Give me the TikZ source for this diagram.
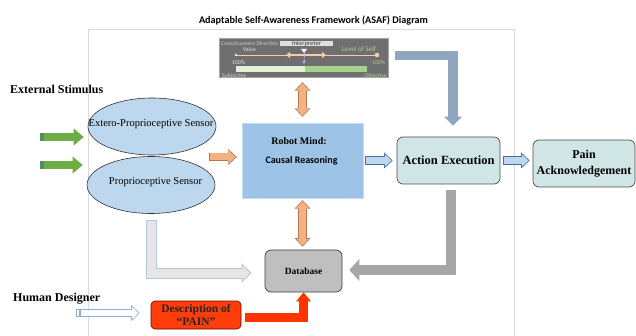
\documentclass[tikz,border=0pt]{standalone}
\usepackage{fontspec}
\setmainfont{Liberation Serif}
\newfontfamily\carlito{Carlito}
\usetikzlibrary{arrows.meta,calc,shapes.geometric}

\definecolor{frameline}{HTML}{D9D9D9}
\definecolor{sensfill}{HTML}{BDD7EE}
\definecolor{mindfill}{HTML}{9DC3E6}
\definecolor{actfill}{HTML}{D0E5E6}
\definecolor{stimgreen}{HTML}{6EAD45}
\definecolor{stimdark}{HTML}{4F8F6A}
\definecolor{orgfill}{HTML}{F4B183}
\definecolor{orgline}{HTML}{B7794D}
\definecolor{bluline}{HTML}{41719C}
\definecolor{steel}{HTML}{8FA6BF}
\definecolor{descred}{HTML}{FF3D0A}
\definecolor{painred}{HTML}{FF3300}
\definecolor{dbgray}{HTML}{BFBFBF}
\definecolor{grayarrow}{HTML}{A6A6A6}
\definecolor{palefill}{HTML}{E7E6E6}
\definecolor{paleline}{HTML}{B4C7DC}
\definecolor{hdline}{HTML}{8FAADC}
\definecolor{panelgray}{HTML}{6F6F6F}
\definecolor{lvlgreen}{HTML}{A9D18E}
\definecolor{lightgreen}{HTML}{E2F0D9}
\definecolor{peach}{HTML}{F8CBAD}
\definecolor{lavender}{HTML}{B4B4E6}

\def\blockarr[#1][#2]#3;{\draw[#1] #3; \draw[#2] #3;}

\tikzset{
  lbl/.style={font=\bfseries\fontsize{12}{14}\selectfont, anchor=west, inner sep=0pt},
  sensor/.style={ellipse, draw=black!80, line width=0.6pt, fill=sensfill, minimum width=128pt, minimum height=57pt, inner sep=0pt},
  senstext/.style={font=\fontsize{10.5}{12}\selectfont, inner sep=0pt},
  mindbox/.style={rectangle, fill=mindfill, draw=mindfill!60!white, minimum width=121pt, minimum height=75pt},
  actbox/.style={rectangle, rounded corners=6pt, draw=black!70, line width=0.7pt, fill=actfill, minimum width=103pt, minimum height=47pt, inner sep=1pt, align=center, font=\bfseries\fontsize{12.5}{15.5}\selectfont},
  dbbox/.style={rectangle, rounded corners=6pt, draw=black!75, line width=0.7pt, fill=dbgray, minimum width=77pt, minimum height=42pt, font=\bfseries\fontsize{9.5}{11}\selectfont},
  descbox/.style={rectangle, rounded corners=4pt, draw=red!45!black, line width=0.6pt, fill=descred, minimum width=90pt, minimum height=28pt, inner sep=0pt, align=center, text=black!85, font=\bfseries\fontsize{11.5}{13}\selectfont},
  panelfont/.style={font=\carlito\fontsize{5.8}{6}\selectfont, inner sep=0pt},
  stimarr/.style={line width=8pt, stimgreen, -{Triangle[length=10pt,width=17pt,line width=0pt]}},
  blkout/.style={line width=8.5pt, >={Triangle[length=8.5pt,width=16pt,line width=0pt]}},
  blkin/.style={line width=7pt, shorten <=0.75pt, shorten >=1.1pt, >={Triangle[length=6.7pt,width=12.5pt,line width=0pt]}},
  paleout/.style={line width=11pt, paleline, -{Triangle[length=10pt,width=19.5pt,line width=0pt]}},
  palein/.style={line width=9pt, palefill, shorten <=1pt, shorten >=1.4pt, -{Triangle[length=7.6pt,width=14.8pt,line width=0pt]}},
  steelarr/.style={line width=9.5pt, steel, -{Triangle[length=9pt,width=18pt,line width=0pt]}},
  grayarr/.style={line width=10pt, grayarrow, -{Triangle[length=10pt,width=22pt,line width=0pt]}},
  redarr/.style={line width=9pt, painred, -{Triangle[length=9pt,width=15pt,line width=0pt]}}
}

\begin{document}
\begin{tikzpicture}[x=1pt,y=-1pt]
  \useasboundingbox (0,0) rectangle (636,336);
  %%%%% FRAME %%%%%
  \draw[frameline, line width=0.8pt] (88,336) |- (514,29) -- (514,336);
  \node[font=\carlito\bfseries\fontsize{10.2}{12}\selectfont] (title) at (313.5,20.5) {Adaptable Self-Awareness Framework (ASAF) Diagram};

  %%%%% LEVEL OF SELF %%%%%
  \node[rectangle, fill=panelgray, draw=black!35, minimum width=169pt, minimum height=39pt, inner sep=0pt] (level) at (303.5,57.5) {};
  \node[panelfont, text=black!20, anchor=west] (consc) at (221,44) {Consciousness Direction};
  \node[panelfont, fill=black!12, text=black!80, minimum width=53pt, minimum height=5.5pt, font=\carlito\fontsize{6.5}{6.5}\selectfont] (interp) at (306.5,43.5) {Interpreter};
  \node[panelfont, text=black!12] (value) at (249.5,50) {Value};
  \node[panelfont, text=lvlgreen, font=\carlito\fontsize{7}{7}\selectfont] (lvl) at (359,49) {Level of Self};
  \draw[peach, line width=0.8pt] (236,55) -- (377,55);
  \fill[black!10] (236,55) circle (1.3pt);
  \fill[peach] (377,55) circle (2.3pt);
  \draw[peach, line width=1.4pt, {Triangle[length=4pt,width=6pt]}-{Triangle[length=4pt,width=6pt]}] (286,55) -- (326,55);
  \fill[white] (301,49) -- (307,49) -- (304,53) -- cycle;
  \draw[lavender, line width=0.8pt, dash pattern=on 1.5pt off 1pt, -{Triangle[length=3pt,width=3pt]}] (304,53) -- (304,64);
  \node[panelfont, text=black!10] (pctL) at (238.5,63) {100\%};
  \node[panelfont, text=lvlgreen] (pctR) at (378.5,63) {100\%};
  \fill[lightgreen] (236,66) rectangle (305,72.5);
  \fill[lvlgreen] (305,66) rectangle (367,72.5);
  \node[panelfont, text=black!20, anchor=west] (subj) at (222,75.5) {Subjective};
  \node[panelfont, text=lvlgreen, anchor=east] (obj) at (387,75.5) {Objective};

  %%%%% LABELS %%%%%
  \node[lbl] (extlbl) at (10,89) {External Stimulus};
  \node[lbl] (hdlbl) at (13,299) {Human Designer};

  %%%%% BOXES %%%%%
  \node[sensor] (sensA) at (152,126.5) {};
  \node[senstext] (sensAtxt) at (151,124) {Extero-Proprioceptive Sensor};
  \node[sensor] (sensB) at (151,185) {};
  \node[senstext] (sensBtxt) at (155.5,182) {Proprioceptive Sensor};

  \node[mindbox] (mind) at (302.5,160.5) {};
  \node[font=\bfseries\fontsize{10}{12}\selectfont] (mindA) at (299,141) {Robot Mind:};
  \node[font=\carlito\bfseries\fontsize{10}{12}\selectfont] (mindB) at (301.5,160.5) {Causal Reasoning};

  \node[actbox] (action) at (448.5,160.5) {Action Execution};
  \node[actbox, font=\bfseries\fontsize{12}{16}\selectfont, minimum width=102pt] (pain) at (584,163.5) {Pain\\Acknowledgement};
  \node[dbbox] (db) at (303.5,271) {Database};
  \node[descbox] (desc) at (196,315) {Description of\\“PAIN”};

  %%%%% ARROWS %%%%%
  \coordinate (stimA) at (40,137);
  \coordinate (stimB) at (40,165);
  \draw[stimarr, shorten >=4pt] (stimA) -- (stimA -| sensA.west);
  \draw[stimarr, shorten >=4pt] (stimB) -- (stimB -| sensB.west);
  \draw[line width=8pt, stimdark] (stimA) -- ++(4,0);
  \draw[line width=8pt, stimdark] (stimB) -- ++(4,0);

  \blockarr[blkout,orgline,->][blkin,orgfill,->] ($(mind.west)+(-33,-3.5)$) -- ($(mind.west)+(-5,-3.5)$);
  \blockarr[blkout,orgline,<->][blkin,orgfill,<->,shorten <=1.1pt] ($(mind.north |- level.south)+(0,5)$) -- ($(mind.north)+(0,-6)$);
  \blockarr[blkout,orgline,<->][blkin,orgfill,<->,shorten <=1.1pt] ($(mind.south)+(0,2)$) -- ($(mind.south |- db.north)+(0,-3)$);
  \blockarr[blkout,bluline,->][blkin,sensfill,->] ($(mind.east)+(2,0)$) -- ($(action.west)+(-4,0)$);
  \blockarr[blkout,bluline,->][blkin,sensfill,->] ($(action.east)+(3,0)$) -- ($(action.east -| pain.west)+(-3,0)$);

  \draw[steelarr] ($(level.east)+(7,-2)$) -| ($(action.north)+(4.5,-11)$);
  \draw[grayarr] ($(action.south)+(2,6)$) |- ($(db.east)+(7,-1)$);
  \blockarr[paleout][palein] ($(sensB.south)+(0,6)$) |- ($(db.west)+(-13,2)$);
  \draw[redarr] ($(desc.east)+(4,2)$) -| (db.south);

  \coordinate (hdtail) at (80,313);
  \draw[hdline, fill=white, line width=0.7pt] (76,309.5) rectangle (79,316.5);
  \blockarr[blkout,hdline,->,line width=7.5pt][blkin,white,->,line width=6pt] (hdtail) -- ($(hdtail -| desc.west)+(-11,0)$);
\end{tikzpicture}
\end{document}
